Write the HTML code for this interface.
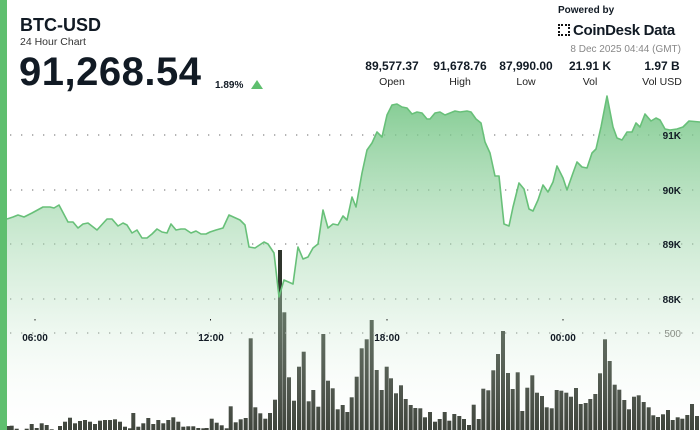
<!DOCTYPE html>
<html><head><meta charset="utf-8"><style>
body{margin:0;width:700px;height:430px;overflow:hidden;background:#fff;font-family:"Liberation Sans",sans-serif;color:#111a24}
#c{position:absolute;left:0;top:0}
.t{position:absolute;white-space:nowrap}
</style></head><body>
<svg id="c" width="700" height="430" xmlns="http://www.w3.org/2000/svg">
<defs>
<linearGradient id="g" x1="0" y1="95" x2="0" y2="430" gradientUnits="userSpaceOnUse">
<stop offset="0" stop-color="#6cc27e" stop-opacity="0.85"/>
<stop offset="0.6" stop-color="#b6e0bf" stop-opacity="0.4"/>
<stop offset="1" stop-color="#ffffff" stop-opacity="0.08"/>
</linearGradient>
</defs>
<g id="bars" fill="#2f352c"></g>
<g stroke="#888" stroke-width="1.3" stroke-dasharray="1.3 9.7">
<line x1="10" y1="135" x2="700" y2="135"/><line x1="10" y1="190" x2="700" y2="190"/>
<line x1="10" y1="244" x2="700" y2="244"/><line x1="10" y1="299" x2="700" y2="299"/>
<line x1="10" y1="333" x2="700" y2="333"/>
</g>
<path id="area" fill="url(#g)" stroke="none"/>
<polyline id="ln" fill="none" stroke="#68c079" stroke-width="1.6" stroke-linejoin="round"/>
<g fill="#222"><rect x="34.5" y="319" width="1" height="1.5"/><rect x="210" y="319" width="1" height="1.5"/><rect x="386.5" y="319" width="1" height="1.5"/><rect x="562.5" y="319" width="1" height="1.5"/></g>
<g font-family="Liberation Sans,sans-serif" font-weight="bold" font-size="10" fill="#111a24" text-anchor="middle">
<text x="35" y="341">06:00</text><text x="211" y="341">12:00</text><text x="387" y="341">18:00</text><text x="563" y="341">00:00</text>
</g>
<g font-family="Liberation Sans,sans-serif" font-weight="bold" font-size="10" fill="#111a24" text-anchor="end">
<text x="681" y="139">91K</text><text x="681" y="194">90K</text><text x="681" y="248">89K</text><text x="681" y="303">88K</text>
<text x="681" y="337" fill="#8a8f87" font-weight="normal">500</text>
</g>
<rect x="0" y="0" width="7" height="430" fill="#5fbf6f"/>
<polygon points="251,89 257,80 263,89" fill="#5fbf6f"/>
</svg>
<div class="t" style="left:20px;top:15px;font-size:18px;font-weight:bold">BTC-USD</div>
<div class="t" style="left:20px;top:36px;font-size:10.5px;color:#333">24 Hour Chart</div>
<div class="t" style="left:19px;top:50px;font-size:40px;font-weight:bold;letter-spacing:0.5px">91,268.54</div>
<div class="t" style="left:215px;top:80px;font-size:10px;font-weight:bold">1.89%</div>
<div class="t" style="left:558px;top:5px;font-size:10px;font-weight:bold">Powered by</div>
<div class="t" style="left:558px;top:22px;font-size:15px;font-weight:bold;letter-spacing:-0.3px"><span style="display:inline-block;width:12px;height:12px;border:2px dotted #111;box-sizing:border-box;margin-right:3px;vertical-align:-1px"></span>CoinDesk Data</div>
<div class="t" style="right:19px;top:44px;font-size:10px;color:#888">8 Dec 2025 04:44 (GMT)</div>
<div class="t" style="left:352px;top:59px;width:80px;text-align:center;font-size:12px;font-weight:bold">89,577.37<div style="font-size:10.5px;font-weight:normal;color:#222;margin-top:3px">Open</div></div>
<div class="t" style="left:420px;top:59px;width:80px;text-align:center;font-size:12px;font-weight:bold">91,678.76<div style="font-size:10.5px;font-weight:normal;color:#222;margin-top:3px">High</div></div>
<div class="t" style="left:486px;top:59px;width:80px;text-align:center;font-size:12px;font-weight:bold">87,990.00<div style="font-size:10.5px;font-weight:normal;color:#222;margin-top:3px">Low</div></div>
<div class="t" style="left:557px;top:59px;width:66px;text-align:center;font-size:12px;font-weight:bold">21.91 K<div style="font-size:10.5px;font-weight:normal;color:#222;margin-top:3px">Vol</div></div>
<div class="t" style="left:632px;top:59px;width:60px;text-align:center;font-size:12px;font-weight:bold">1.97 B<div style="font-size:10.5px;font-weight:normal;color:#222;margin-top:3px">Vol USD</div></div>
<script>
var pts=[[7,219],[13,217],[18,215],[24,217],[32,213],[43,207],[50,207],[54,208],[59,205],[68,222],[73,222],[78,228],[83,224],[88,223],[97,230],[107,219],[112,219],[118,226],[123,223],[127,225],[132,233],[137,230],[142,238],[147,238],[152,234],[157,229],[162,232],[167,233],[171,224],[176,230],[181,229],[185,229],[191,233],[196,231],[201,234],[206,234],[210,232],[216,230],[223,228],[229,215],[240,220],[245,225],[249,247],[255,248],[264,242],[268,244],[274,253],[279,297],[284,280],[293,284],[298,247],[303,259],[308,257],[313,248],[318,244],[323,210],[328,228],[333,224],[338,225],[343,216],[347,220],[352,197],[356,207],[362,173],[367,150],[372,143],[377,132],[382,137],[387,115],[392,105],[397,104],[402,107],[407,108],[412,114],[417,112],[422,113],[427,119],[430,119],[435,113],[440,112],[445,115],[450,113],[455,111],[460,112],[467,111],[471,112],[476,119],[481,123],[485,142],[490,153],[495,176],[499,176],[504,224],[509,226],[513,207],[519,183],[524,189],[529,209],[533,211],[538,200],[543,185],[548,192],[553,182],[557,166],[563,178],[567,190],[573,173],[577,162],[582,167],[587,168],[592,153],[596,149],[601,127],[607,96],[613,127],[617,138],[622,140],[627,132],[632,132],[636,123],[640,127],[645,114],[651,121],[656,118],[660,120],[665,129],[670,130],[677,129],[683,127],[689,121],[700,122]];
var s=pts.map(function(p){return p.join(',')}).join(' ');
document.getElementById('ln').setAttribute('points',s);
document.getElementById('area').setAttribute('d','M7,430 L'+s.replace(/ /g,' L')+' L700,430 Z');
var z3=[[25,678],[35,677],[50,686],[80,686],[95,672],[110,684],[125,670],[140,675],[155,688],[180,678],[195,665],[210,653],[225,670],[240,663],[255,660],[270,665],[285,672],[300,662],[315,660],[330,660],[345,658],[360,665],[375,680],[390,685],[400,639],[415,680],[430,670],[445,654],[460,672],[475,660],[490,670],[505,660],[520,652],[535,665],[550,680],[565,679],[580,679],[595,684],[610,685],[620,684],[635,656],[650,668],[665,676],[680,685],[692,619],[707,667],[722,658],[737,654],[752,415],[766,622],[781,640],[796,656],[810,639],[825,599],[840,150],[853,337],[867,532],[882,602],[897,500],[911,455],[926,604],[940,570],[955,620],[970,402],[984,542],[998,565],[1013,628],[1028,615],[1042,636]];
var z4=[[5,592],[20,530],[35,445],[50,418],[65,360],[80,510],[95,570],[110,500],[123,535],[138,580],[153,556],[167,597],[182,615],[196,624],[211,625],[225,652],[240,636],[255,665],[269,657],[284,636],[298,662],[313,642],[328,648],[342,657],[357,675],[371,614],[386,657],[400,566],[415,571],[430,511],[444,462],[459,393],[474,519],[488,567],[503,517],[517,633],[532,563],[547,526],[561,578],[576,588],[590,622],[605,625],[620,570],[634,572],[649,578],[663,590],[678,564],[692,612],[707,609],[721,597],[736,582],[750,520],[765,418],[779,483],[794,554],[808,569],[823,600],[837,628],[852,590],[866,586],[881,606],[896,622],[910,646],[924,651],[939,643],[954,630],[968,660],[983,652],[997,656],[1012,645],[1026,612],[1041,648]];
var h='';
z3.forEach(function(b){var x=b[0]/3,y=200+b[1]/3;h+='<rect x="'+(x-2).toFixed(1)+'" y="'+y.toFixed(1)+'" width="4" height="'+(430-y).toFixed(1)+'"/>';});
z4.forEach(function(b){var x=350+b[0]/3,y=200+b[1]/3;h+='<rect x="'+(x-2).toFixed(1)+'" y="'+y.toFixed(1)+'" width="4" height="'+(430-y).toFixed(1)+'"/>';});
document.getElementById('bars').innerHTML=h;
</script>
</body></html>
